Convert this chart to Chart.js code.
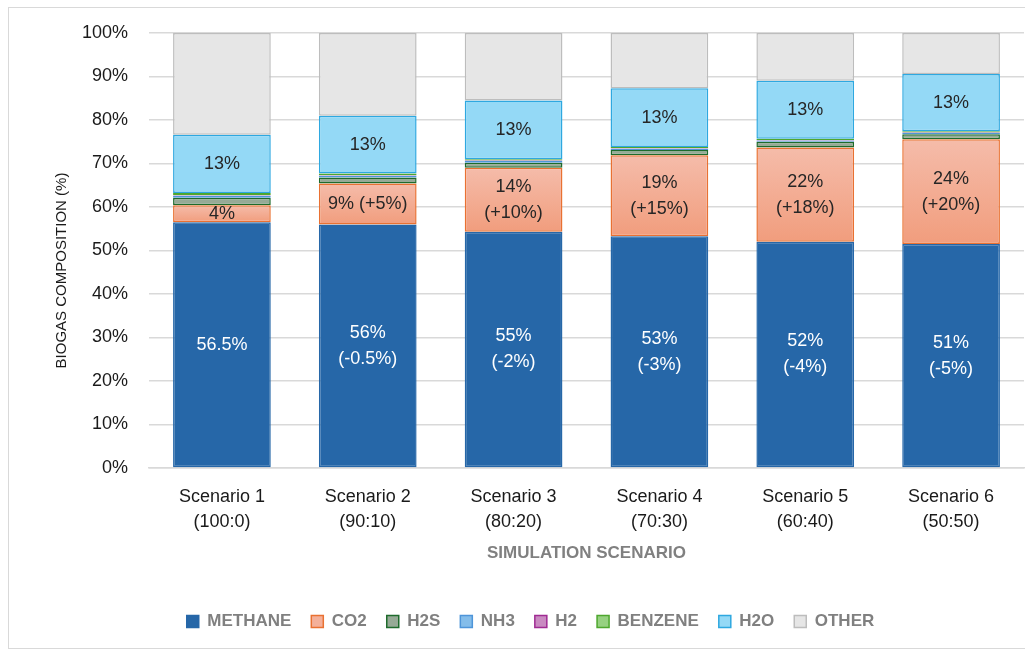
<!DOCTYPE html>
<html lang="en">
<head>
    <meta charset="UTF-8">
    <title>Biogas composition</title>
    <script src="https://cdn.jsdelivr.net/npm/chart.js"></script>
    <style>
        html, body {
            margin: 0;
            padding: 0;
            background: #fff;
            overflow: hidden;
            width: 1025px;
            height: 649px;
        }
        .frame {
            position: absolute;
            left: 8px;
            top: 7px;
            width: 1045px;
            height: 640px;
            border: 1px solid #d9d9d9;
        }
    </style>
</head>
<body>
    <div class="frame">
        <canvas id="biogas" width="1045" height="640"></canvas>
    </div>
    <script>
        // categories
        const scenarios = [
            ['Scenario 1', '(100:0)'],
            ['Scenario 2', '(90:10)'],
            ['Scenario 3', '(80:20)'],
            ['Scenario 4', '(70:30)'],
            ['Scenario 5', '(60:40)'],
            ['Scenario 6', '(50:50)']
        ];

        // composition (%) per scenario
        const methane = [56.5, 56.0, 54.3, 53.3, 52.0, 51.5];
        const co2     = [3.9, 9.4, 14.7, 18.6, 21.7, 24.1];
        const h2s     = [1.7, 1.4, 1.2, 1.2, 1.3, 1.1];
        const nh3     = [0.5, 0.4, 0.4, 0.3, 0.3, 0.3];
        const h2      = [0.1, 0.1, 0.1, 0.1, 0.1, 0.1];
        const benzene = [0.5, 0.4, 0.3, 0.3, 0.3, 0.3];
        const h2o     = [13.4, 13.3, 13.5, 13.5, 13.3, 13.2];
        const other   = [23.4, 19.0, 15.5, 12.7, 11.0, 9.4];

        // text written inside the bars
        const methaneLabels = ['56.5%', '56%\n(-0.5%)', '55%\n(-2%)', '53%\n(-3%)', '52%\n(-4%)', '51%\n(-5%)'];
        const co2Labels = ['4%', '9% (+5%)', '14%\n(+10%)', '19%\n(+15%)', '22%\n(+18%)', '24%\n(+20%)'];
        const h2oLabels = ['13%', '13%', '13%', '13%', '13%', '13%'];

        const yTicks = [0, 10, 20, 30, 40, 50, 60, 70, 80, 90, 100];
        const yTitle = 'BIOGAS COMPOSITION (%)';

        const FONT = "'Liberation Sans', Arial, sans-serif";

        // orange gradient over each CO2 segment
        function co2Fill(ctx) {
            if (ctx.dataIndex === undefined || !ctx.chart.scales.y) return '#f4ae96';
            const y = ctx.chart.scales.y;
            const i = ctx.dataIndex;
            const top = y.getPixelForValue(methane[i] + co2[i]);
            const bottom = y.getPixelForValue(methane[i]);
            if (!isFinite(top) || !isFinite(bottom) || top === bottom) return '#f4ae96';
            const g = ctx.chart.ctx.createLinearGradient(0, top, 0, bottom);
            g.addColorStop(0, '#f5bcaa');
            g.addColorStop(1, '#f19d7d');
            return g;
        }

        function ds(label, data, fill, border, labels, labelColor) {
            return {
                label: label,
                data: data,
                backgroundColor: fill,
                borderColor: border,
                borderWidth: 1.5,
                borderSkipped: false,
                barPercentage: 0.67,
                categoryPercentage: 1,
                inLabels: labels,
                inLabelColor: labelColor,
                legendFill: typeof fill === 'string' ? fill : '#f4b09a'
            };
        }

        // draws the labels inside the bar segments
        const insideLabels = {
            id: 'insideLabels',
            afterDatasetsDraw(chart) {
                const c = chart.ctx;
                chart.data.datasets.forEach((d, di) => {
                    if (!d.inLabels) return;
                    const meta = chart.getDatasetMeta(di);
                    meta.data.forEach((bar, i) => {
                        const lines = d.inLabels[i].split('\n');
                        const cy = (bar.y + bar.base) / 2;
                        const lh = 26;
                        c.save();
                        c.font = '18px ' + FONT;
                        c.fillStyle = d.inLabelColor;
                        c.textAlign = 'center';
                        c.textBaseline = 'middle';
                        lines.forEach((t, k) => {
                            c.fillText(t, bar.x, cy + (k - (lines.length - 1) / 2) * lh);
                        });
                        c.restore();
                    });
                });
            }
        };

        // y axis title sits a bit lower than the plot centre in the original
        const sideTitle = {
            id: 'sideTitle',
            afterDraw(chart) {
                const c = chart.ctx;
                const a = chart.chartArea;
                c.save();
                c.translate(53, (a.top + a.bottom) / 2 + 20);
                c.rotate(-Math.PI / 2);
                c.font = '15px ' + FONT;
                c.fillStyle = '#1a1a1a';
                c.textAlign = 'center';
                c.textBaseline = 'middle';
                c.fillText(yTitle, 0, 0);
                c.restore();
            }
        };

        // legend is centred on the whole frame, not on the padded box
        const shiftLegend = {
            id: 'shiftLegend',
            afterUpdate(chart) {
                chart.legend.left += 14;
                chart.legend.right += 14;
            }
        };

        new Chart(document.getElementById('biogas'), {
            type: 'bar',
            data: {
                labels: scenarios,
                datasets: [
                    ds('METHANE', methane, '#2667a8', '#2667a8', methaneLabels, '#ffffff'),
                    ds('CO2', co2, co2Fill, '#e97132', co2Labels, '#262626'),
                    ds('H2S', h2s, '#96aa96', '#1e6b2c'),
                    ds('NH3', nh3, '#84bdea', '#4e95d9'),
                    ds('H2', h2, '#c98ac1', '#a02b93'),
                    ds('BENZENE', benzene, '#96d181', '#4ea72e'),
                    ds('H2O', h2o, '#94d9f6', '#2ea8e0', h2oLabels, '#262626'),
                    ds('OTHER', other, '#e6e6e6', '#bdbdbd')
                ]
            },
            options: {
                responsive: false,
                animation: false,
                layout: {
                    padding: { top: 25, left: 0, right: 30, bottom: 8 }
                },
                scales: {
                    x: {
                        stacked: true,
                        grid: { display: false },
                        border: { color: '#d9d9d9', width: 1.5 },
                        ticks: {
                            color: '#1a1a1a',
                            font: { family: FONT, size: 18, lineHeight: 1.39 },
                            padding: 9,
                            maxRotation: 0
                        },
                        title: {
                            display: true,
                            text: 'SIMULATION SCENARIO',
                            color: '#808080',
                            font: { family: FONT, size: 17, weight: 'bold' },
                            padding: { top: 0, bottom: 29 }
                        },
                        afterFit(scale) { scale.height = 125; }
                    },
                    y: {
                        stacked: true,
                        min: 0,
                        max: 100,
                        afterBuildTicks(scale) {
                            scale.ticks = yTicks.map(v => ({ value: v }));
                        },
                        grid: { color: '#d9d9d9', lineWidth: 1.5, drawTicks: false },
                        border: { display: false },
                        ticks: {
                            color: '#1a1a1a',
                            font: { family: FONT, size: 18 },
                            padding: 21,
                            callback: v => v + '%'
                        },
                        afterFit(scale) {
                            scale.width = 140;
                            scale.paddingTop = 0;
                            scale.paddingBottom = 0;
                        }
                    }
                },
                plugins: {
                    legend: {
                        position: 'bottom',
                        labels: {
                            color: '#808080',
                            font: { family: FONT, size: 17, weight: 'bold' },
                            boxWidth: 12,
                            boxHeight: 12,
                            padding: 20,
                            generateLabels(chart) {
                                return chart.data.datasets.map((d, i) => ({
                                    text: d.label,
                                    fillStyle: d.legendFill,
                                    strokeStyle: d.borderColor,
                                    lineWidth: 1.5,
                                    fontColor: '#808080',
                                    datasetIndex: i,
                                    hidden: false
                                }));
                            }
                        }
                    },
                    tooltip: { enabled: false }
                }
            },
            plugins: [insideLabels, sideTitle, shiftLegend]
        });
    </script>
</body>
</html>
